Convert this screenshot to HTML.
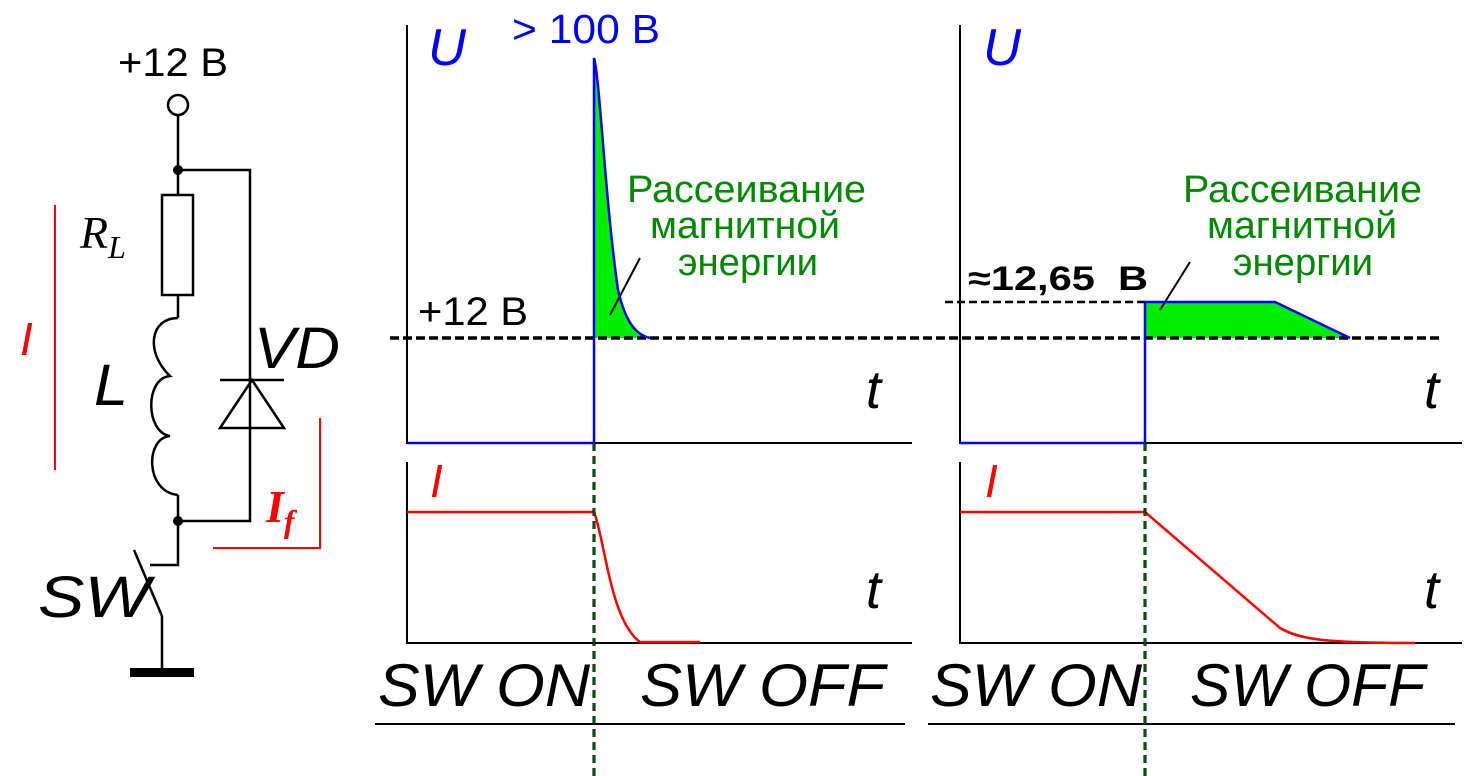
<!DOCTYPE html>
<html><head><meta charset="utf-8"><style>html,body{margin:0;padding:0;background:#fff}svg{display:block}</style></head>
<body>
<svg width="1482" height="776" viewBox="0 0 1482 776" xmlns="http://www.w3.org/2000/svg" font-family="Liberation Sans, sans-serif">
<!-- circuit -->
<g stroke="#000" stroke-width="2.5" fill="none">
<circle cx="178" cy="105" r="10" fill="#fff"/>
<path d="M178 115V195M178 170H250V521H178M178 295V318M178 495V565H150M162 616V672"/>
<rect x="162" y="195" width="31" height="100" fill="#fff"/>
<path d="M178 318 C150 318 145 352 170 376 C145 378 145 432 170 436 C145 438 145 492 178 495" />
<path d="M134 550L162 616"/>
<path d="M220 380H284M220 428H284L252 380Z"/>
</g>
<circle cx="178" cy="170" r="5"/><circle cx="178" cy="521" r="5"/>
<rect x="130" y="668" width="64" height="9"/>
<text x="118" y="76" font-size="40" textLength="110" lengthAdjust="spacingAndGlyphs">+12 B</text>
<text x="80" y="248" font-size="46" font-style="italic" font-family="Liberation Serif, serif">R<tspan font-size="32" dy="10">L</tspan></text>
<text x="94" y="405" font-size="58" font-style="italic" textLength="34" lengthAdjust="spacingAndGlyphs">L</text>
<text x="254" y="368" font-size="58" font-style="italic" textLength="86" lengthAdjust="spacingAndGlyphs">VD</text>
<text x="38" y="617" font-size="58" font-style="italic" textLength="112" lengthAdjust="spacingAndGlyphs">SW</text>
<g stroke="red" stroke-width="2" fill="none"><path d="M55 205V470M320 418V548H213"/></g>
<text x="20" y="355" font-size="46" font-style="italic" fill="red">I</text>
<text x="266" y="522" font-size="46" font-style="italic" font-weight="bold" fill="red" font-family="Liberation Serif, serif">I<tspan font-size="32" dy="10">f</tspan></text>

<!-- graphs -->
<path d="M594 338 L594 58 C600 80 605 200 618 290 C625 320 635 335 650 338 Z" fill="#00ee00"/>
<path d="M1145 338V302H1275L1350 338Z" fill="#00ee00"/>
<g stroke="#000" stroke-width="2" fill="none">
<path d="M407 25V443H912M407 462V643H912M960 25V443H1462M960 462V643H1462M375 724H905M928 724H1455"/>
<path d="M610 315L640 258M1160 310L1190 262"/>
</g>
<path d="M390 338H1440" stroke="#000" stroke-width="3.5" stroke-dasharray="9 4"/>
<path d="M945 302H1145" stroke="#000" stroke-width="2.5" stroke-dasharray="8 4"/>
<g stroke="#0000ff" stroke-width="2.5" fill="none">
<path d="M407 443H594V58 C600 80 605 200 618 290 C625 320 635 335 650 338"/>
<path d="M960 443H1145V302H1275L1350 338"/>
</g>
<g stroke="red" stroke-width="2.5" fill="none">
<path d="M407 512H594 C605 540 610 620 640 642 H700"/>
<path d="M960 512H1145L1280 628 C1300 640 1330 643 1415 643"/>
</g>
<g stroke="#000" stroke-width="3" stroke-dasharray="8 5"><path d="M594 443V776M1145 443V776"/></g>
<g stroke="#00aa00" stroke-width="1" stroke-dasharray="8 5"><path d="M594 443V776M1145 443V776"/></g>
<g font-size="52" font-style="italic" fill="#0000ff"><text x="428" y="65" textLength="38" lengthAdjust="spacingAndGlyphs">U</text><text x="983" y="65" textLength="38" lengthAdjust="spacingAndGlyphs">U</text></g>
<text x="512" y="43" font-size="41" fill="#0000ff" textLength="148" lengthAdjust="spacingAndGlyphs">&gt; 100 B</text>
<text x="418" y="325" font-size="40" textLength="110" lengthAdjust="spacingAndGlyphs">+12 B</text>
<text x="968" y="290" font-size="34" font-weight="bold" textLength="180" lengthAdjust="spacingAndGlyphs" xml:space="preserve">≈12,65  B</text>
<g fill="#008800" font-size="38">
<text x="627" y="202" textLength="239" lengthAdjust="spacingAndGlyphs">Рассеивание</text><text x="650" y="238" textLength="190" lengthAdjust="spacingAndGlyphs">магнитной</text><text x="678" y="275" textLength="140" lengthAdjust="spacingAndGlyphs">энергии</text>
<text x="1183" y="202" textLength="239" lengthAdjust="spacingAndGlyphs">Рассеивание</text><text x="1207" y="238" textLength="190" lengthAdjust="spacingAndGlyphs">магнитной</text><text x="1233" y="275" textLength="140" lengthAdjust="spacingAndGlyphs">энергии</text>
</g>
<g font-size="54" font-style="italic">
<text x="866" y="408">t</text><text x="866" y="608">t</text><text x="1424" y="408">t</text><text x="1424" y="608">t</text>
</g>
<g font-size="60" font-style="italic">
<text x="378" y="706" textLength="212" lengthAdjust="spacingAndGlyphs">SW ON</text><text x="640" y="706" textLength="245" lengthAdjust="spacingAndGlyphs">SW OFF</text>
<text x="930" y="706" textLength="212" lengthAdjust="spacingAndGlyphs">SW ON</text><text x="1190" y="706" textLength="235" lengthAdjust="spacingAndGlyphs">SW OFF</text>
</g>
<g font-size="46" font-style="italic" fill="red"><text x="430" y="497">I</text><text x="985" y="497">I</text></g>
</svg>
</body></html>
